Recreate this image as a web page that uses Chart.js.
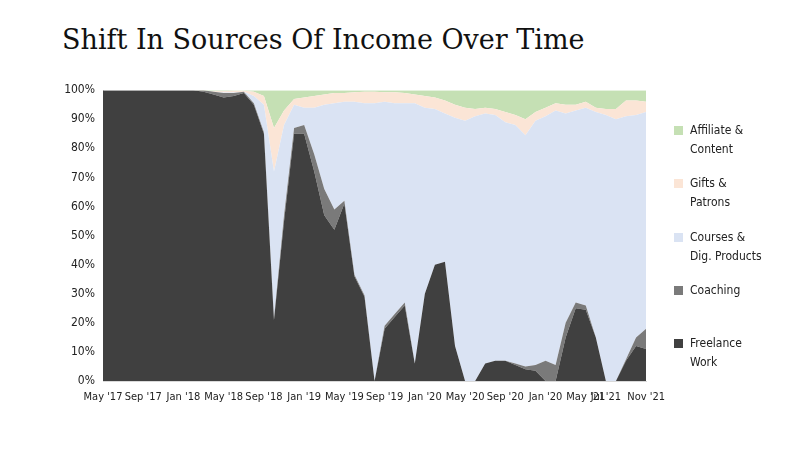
<!DOCTYPE html>
<html><head><meta charset="utf-8">
<script src="https://cdn.jsdelivr.net/npm/chart.js@4"></script>
<style>
body{margin:0;width:800px;height:450px;background:#fff;position:relative;overflow:hidden;font-family:"DejaVu Sans Condensed","Liberation Sans",sans-serif}
#title{position:absolute;left:62px;top:24px;font-family:"DejaVu Serif","Liberation Serif",serif;font-size:27px;color:#111;white-space:nowrap}
#wrap{position:absolute;left:0;top:75px;width:675px;height:340px}
.leg{position:absolute;left:674px;font-size:12px;color:#222;line-height:19px}
.leg i{position:absolute;left:0;top:5px;width:9px;height:9px}
.leg span{display:block;margin-left:16px}
</style></head><body>
<div id="title">Shift In Sources Of Income Over Time</div>
<div id="wrap"><canvas id="c"></canvas></div>
<div class="leg" style="top:121px"><i style="background:#c5e0b4"></i><span>Affiliate &amp;<br>Content</span></div>
<div class="leg" style="top:174px"><i style="background:#fbe5d6"></i><span>Gifts &amp;<br>Patrons</span></div>
<div class="leg" style="top:228px"><i style="background:#dae3f3"></i><span>Courses &amp;<br>Dig. Products</span></div>
<div class="leg" style="top:281px"><i style="background:#7a7a7a"></i><span>Coaching</span></div>
<div class="leg" style="top:334px"><i style="background:#404040"></i><span>Freelance<br>Work</span></div>
<script>
// month labels (only some shown on the axis)
var tickLabels = {0:"May '17",4:"Sep '17",8:"Jan '18",12:"May '18",16:"Sep '18",20:"Jan '19",24:"May '19",28:"Sep '19",32:"Jan '20",36:"May '20",40:"Sep '20",44:"Jan '20",48:"May '21",50:"Jul '21",54:"Nov '21"};
var months = [];
for (var i = 0; i < 55; i++) months.push(tickLabels[i] || "");

// cumulative tops of each band, in %
var freelanceTop = [100,100,100,100,100,100,100,100,100,100,99.5,98.5,97.5,98,99,95,85,21,55,85,85,72,57,52,61,36,29,0,18,22,26,6,30,40,41,12,0,0,6,7,7,5.5,4,3.5,0,0,15,25,24.5,15,0,0,7,12,11];
var coachingTop = [100,100,100,100,100,100,100,100,100,100,100,99.5,99,99,99.5,95.5,85.5,21.5,57,87,88,78,66,59,62,36.5,29.5,0,19,23,27,6,30,40,41,12,0,0,6,7,7,6,5,5.5,7,5.5,20,27,26,15,0,0,7.5,15,18];
var coursesTop = [100,100,100,100,100,100,100,100,100,100,100,99.5,99.2,99.2,99.5,98,95,72,88,95,94,94,95,95.5,96,96,95.5,95.5,96,95.5,95.5,95.5,94,93.5,92,90.5,89.5,91,92,91.5,89,88,84.5,89.5,91,93,92,93,94,92.5,91.5,90,91,91.5,92.5];
var giftsTop = [100,100,100,100,100,100,100,100,100,100,99.8,99.6,99.6,99.8,99.8,99.5,98,87,93,97,97.5,98,98.5,99,99,99.3,99.5,99.5,99.3,99.3,99,98.5,98,97.5,96.5,95,94,93.5,94,93.5,92.5,91.5,90,92.5,94,95.5,95,95,96,94,93.5,93.5,96.5,96.5,96];
var affiliateTop = months.map(function(){ return 100; });

function band(data, color, fill) {
    return { data: data, backgroundColor: color, borderWidth: 0, pointRadius: 0, fill: fill, tension: 0 };
}

new Chart(document.getElementById("c"), {
    type: 'line',
    data: {
        labels: months,
        datasets: [
            band(freelanceTop, "#404040", "origin"),
            band(coachingTop, "#7a7a7a", "-1"),
            band(coursesTop, "#dae3f3", "-1"),
            band(giftsTop, "#fbe5d6", "-1"),
            band(affiliateTop, "#c5e0b4", "-1")
        ]
    },
    options: {
        responsive: true, maintainAspectRatio: false, animation: false,
        layout: { padding: { top: 1, right: 0 } },
        plugins: { legend: { display: false }, tooltip: { enabled: false } },
        scales: {
            x: {
                grid: { display: false, drawTicks: false },
                border: { color: "#d9d9d9" },
                ticks: { autoSkip: false, maxRotation: 0, color: "#222", font: { family: "DejaVu Sans Condensed", size: 11 }, padding: 10 },
                afterFit: function(s) { s.height = 34; }
            },
            y: {
                min: 0, max: 100,
                grid: { display: false, drawTicks: false },
                border: { color: "#d9d9d9" },
                ticks: { stepSize: 10, color: "#222", padding: 8, font: { family: "DejaVu Sans Condensed", size: 12 }, callback: function(v) { return v + "%"; } },
                afterFit: function(s) { s.width = 103; }
            }
        }
    }
});
</script>
</body></html>
